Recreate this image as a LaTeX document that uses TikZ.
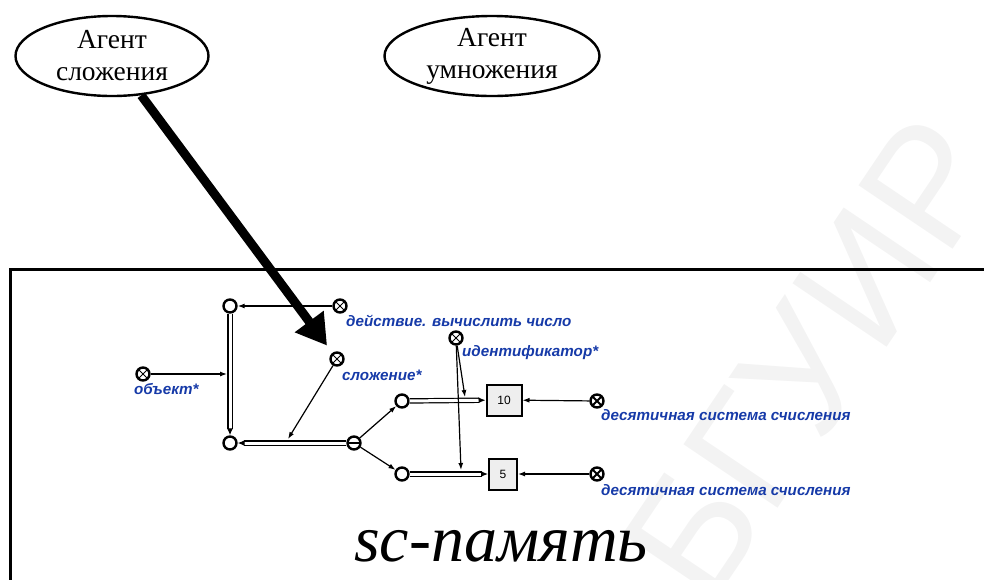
\documentclass[tikz,border=0pt]{standalone}
\usepackage{fontspec}
\setmainfont{Liberation Serif}
\setsansfont{Liberation Sans}
\usetikzlibrary{arrows.meta,shapes.geometric}
\definecolor{lblblue}{RGB}{22,58,168}
\definecolor{boxgray}{RGB}{238,238,238}
\definecolor{wmgray}{RGB}{243,243,243}
\tikzset{
  agent/.style={ellipse, draw, line width=2.4pt, align=center,
    font=\fontsize{27.5}{32}\selectfont, inner sep=0pt},
  vnode/.style={circle, draw, line width=2.4pt, minimum size=13pt, inner sep=0pt, fill=white},
  xnode/.style={vnode, path picture={
      \draw[line width=1pt] (path picture bounding box.south west) -- (path picture bounding box.north east)
        (path picture bounding box.north west) -- (path picture bounding box.south east);}},
  xnodeb/.style={vnode, path picture={
      \draw[line width=2pt] (path picture bounding box.south west) -- (path picture bounding box.north east)
        (path picture bounding box.north west) -- (path picture bounding box.south east);}},
  thnode/.style={vnode, path picture={
      \draw[line width=2pt] (path picture bounding box.west) -- (path picture bounding box.east);}},
  linkbox/.style={rectangle, draw, line width=2pt, fill=boxgray, inner sep=0pt,
    minimum height=31pt, font=\sffamily\fontsize{12}{14}\selectfont,
    path picture={\fill (path picture bounding box.north west) -- ++(6pt,0pt) -- ++(-6pt,-6pt) -- cycle;}},
  lbl/.style={anchor=west, text=lblblue, inner sep=0pt,
    font=\sffamily\bfseries\itshape\fontsize{15.2}{17}\selectfont},
  thin/.style={line width=1.2pt, -{Latex[length=7pt,width=5pt]}},
  dbl/.style={double=white, double distance=3pt, line width=1.2pt,
    -{Latex[length=7pt,width=6pt]}},
  bigarrow/.style={line width=9pt, -{Triangle[length=30pt,width=34pt]}},
}
\begin{document}
\begin{tikzpicture}[x=1pt,y=-1pt]
\useasboundingbox (0,0) rectangle (984,579);

% faint watermark
\node[text=wmgray, rotate=56, font=\sffamily\fontsize{165}{165}\selectfont] (wm) at (812,358) {БГУИР};

% agents
\node[agent, minimum width=193pt, minimum height=80pt] (e1) at (112,56) {Агент\\сложения};
\node[agent, minimum width=215pt, minimum height=80pt] (e2) at (492,56) {Агент\\умножения};

% memory frame
\draw[line width=3pt] (10,600) -- (10,269) -- (1000,269);
\node[font=\itshape\fontsize{66}{68}\selectfont, inner sep=0pt] (mem) at (501,546) {sc-память};

% sc-nodes
\node[vnode] (c1) at (230,306) {};
\node[vnode] (c2) at (230,443) {};
\node[xnode] (act) at (340,306) {};
\node[xnode] (sl) at (337,359) {};
\node[xnode] (obj) at (143,374) {};
\node[thnode] (th) at (354,443) {};
\node[vnode] (c3) at (402,401) {};
\node[vnode] (c4) at (402,474) {};
\node[xnode] (idf) at (456,338) {};
\node[linkbox, minimum width=35pt] (b10) at (504,400) {10};
\node[linkbox, minimum width=28pt] (b5) at (503,474) {5};
\node[xnodeb] (d1) at (597,401) {};
\node[xnodeb] (d2) at (597,474) {};

% labels
\node[lbl] (lact) at (346,321) {действие. вычислить число};
\node[lbl] (lsl) at (342,375) {сложение*};
\node[lbl] (lobj) at (134,389) {объект*};
\node[lbl] (lidf) at (462,353) {идентификатор*};
\node[lbl] (ld1) at (601,415) {десятичная система счисления};
\node[lbl] (ld2) at (601,490) {десятичная система счисления};

% arc end points
\coordinate (v1) at (227,374);
\coordinate (h1) at (288,439);
\coordinate (p1) at (465,397);
\coordinate (p2) at (461,470);

% connectors
\draw[dbl] (c1) -- (c2);
\draw[dbl] (th) -- (c2);
\draw[dbl] (c3) -- (b10);
\draw[dbl] (c4) -- (b5);
\draw[thin] (act) -- (c1);
\draw[thin] (obj) -- (v1);
\draw[thin] (sl) -- (h1);
\draw[thin] (th) -- (c3);
\draw[thin] (th) -- (c4);
\draw[thin] (idf) -- (p1);
\draw[thin] (idf) -- (p2);
\draw[thin] (d1) -- (b10);
\draw[thin] (d2) -- (b5);

% agent activity
\draw[bigarrow, shorten >=9pt] (e1) -- (sl);
\end{tikzpicture}
\end{document}
